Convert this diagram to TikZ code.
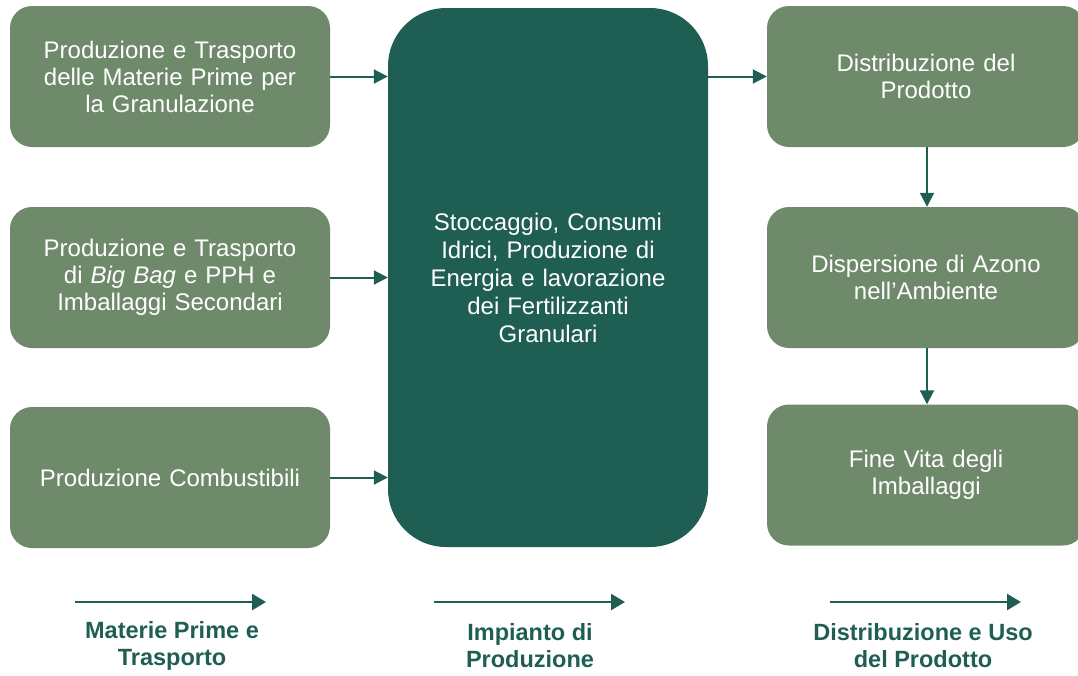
\documentclass[tikz,border=0pt]{standalone}
\usepackage{fontspec}
\setmainfont{Liberation Sans}
\usetikzlibrary{arrows.meta}
\definecolor{boxlight}{HTML}{6E8A6B}
\definecolor{boxdark}{HTML}{1F5E52}
\tikzset{
  lbox/.style={fill=boxlight, draw=none, rounded corners=22pt, minimum width=320pt, minimum height=141pt,
    text=white, align=center, text width=300pt, font=\fontsize{24}{27}\selectfont, inner sep=0pt},
  rbox/.style={lbox, minimum width=318pt, text width=298pt},
  cbox/.style={fill=boxdark, draw=none, rounded corners=58pt, minimum width=320pt, minimum height=539pt,
    text=white, align=center, text width=300pt, font=\fontsize{24}{28}\selectfont, inner sep=0pt},
  conn/.style={draw=boxdark, line width=2pt, -{Triangle[length=14pt,width=14pt]}},
  legarrow/.style={draw=boxdark, line width=2.5pt, -{Triangle[length=14pt,width=16pt]}},
  leglabel/.style={text=boxdark, align=center, font=\bfseries\fontsize{23.5}{27}\selectfont, inner sep=0pt}
}
\begin{document}
\begin{tikzpicture}[x=1pt,y=-1pt]
\useasboundingbox (0,0) rectangle (1078,675);
\node[lbox] (a1) at (170,76.5) {Produzione e Trasporto\\delle Materie Prime per\\la Granulazione};
\node[lbox] (a2) at (170,277.5) {Produzione e Trasporto\\di \textit{Big Bag} e PPH e\\Imballaggi Secondari};
\node[lbox] (a3) at (170,477.5) {Produzione Combustibili};
\node[cbox] (c) at (548,277.5) {Stoccaggio, Consumi\\Idrici, Produzione di\\Energia e lavorazione\\dei Fertilizzanti\\Granulari};
\node[rbox] (r1) at (926,76.5) {Distribuzione del\\Prodotto};
\node[rbox] (r2) at (926,277.5) {Dispersione di Azono\\nell’Ambiente};
\node[rbox] (r3) at (926,475) {Fine Vita degli\\Imballaggi};
\draw[conn] (a1.east) -- (a1.east -| c.west);
\draw[conn] (a2.east) -- (a2.east -| c.west);
\draw[conn] (a3.east) -- (a3.east -| c.west);
\draw[conn] (c.east |- r1.west) -- (r1.west);
\draw[conn] (927,147) coordinate (v1) -- (v1 |- r2.north);
\draw[conn] (927,348) coordinate (v2) -- (v2 |- r3.north);
\coordinate (l1s) at (75,602); \coordinate (l1e) at (266,602);
\coordinate (l2s) at (434,602); \coordinate (l2e) at (625,602);
\coordinate (l3s) at (830,602); \coordinate (l3e) at (1021,602);
\draw[legarrow] (l1s) -- (l1e);
\draw[legarrow] (l2s) -- (l2e);
\draw[legarrow] (l3s) -- (l3e);
\node[leglabel] (t1) at (172,646) {Materie Prime e\\Trasporto};
\node[leglabel] (t2) at (530,646) {Impianto di\\Produzione};
\node[leglabel] (t3) at (923,646) {Distribuzione e Uso\\del Prodotto};
\end{tikzpicture}
\end{document}
